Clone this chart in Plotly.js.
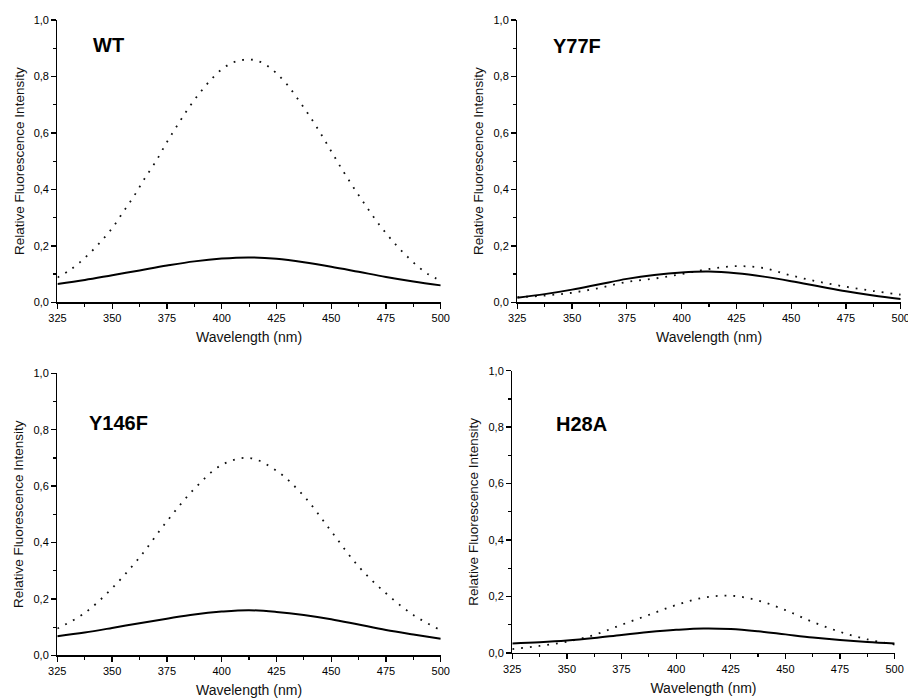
<!DOCTYPE html>
<html>
<head>
<meta charset="utf-8">
<script src="https://cdn.plot.ly/plotly-3.0.1.min.js"></script>
<style>html,body{margin:0;padding:0;background:#fff;}#chart{width:908px;height:699px;}</style>
</head>
<body>
<div id="chart"></div>
<script>
// Wavelength grids (nm)
const wl5 = [325,330,335,340,345,350,355,360,365,370,375,380,385,390,395,400,405,410,415,420,425,430,435,440,445,450,455,460,465,470,475,480,485,490,495,500];
const wl12 = [325,337.5,350,362.5,375,387.5,400,412.5,425,437.5,450,462.5,475,487.5,500];

// Panel labels
const panelNames = ["WT", "Y77F", "Y146F", "H28A"];

// WT
const wtDotted = [0.088,0.111,0.140,0.176,0.217,0.263,0.320,0.377,0.441,0.500,0.568,0.630,0.690,0.742,0.788,0.825,0.849,0.859,0.858,0.842,0.811,0.770,0.717,0.661,0.600,0.535,0.470,0.409,0.351,0.295,0.245,0.200,0.160,0.124,0.096,0.077];
const wtSolid = [0.065,0.079,0.096,0.113,0.130,0.145,0.155,0.159,0.154,0.142,0.126,0.108,0.090,0.074,0.060];

// Y77F
const y77fDotted = [0.018,0.024,0.034,0.051,0.072,0.084,0.100,0.118,0.128,0.121,0.095,0.073,0.055,0.040,0.027];
const y77fSolid = [0.016,0.029,0.045,0.064,0.083,0.097,0.106,0.109,0.103,0.091,0.075,0.057,0.039,0.024,0.012];

// Y146F
const y146fDotted = [0.095,0.150,0.238,0.347,0.475,0.590,0.675,0.700,0.655,0.565,0.440,0.315,0.220,0.143,0.089];
const y146fSolid = [0.068,0.081,0.097,0.114,0.130,0.145,0.155,0.160,0.154,0.143,0.128,0.109,0.090,0.074,0.059];

// H28A
const h28aDotted = [0.014,0.025,0.040,0.064,0.100,0.135,0.170,0.196,0.203,0.186,0.152,0.110,0.075,0.048,0.030];
const h28aSolid = [0.034,0.038,0.044,0.053,0.064,0.074,0.082,0.087,0.085,0.077,0.066,0.055,0.046,0.039,0.034];

const xTicks = [325,350,375,400,425,450,475,500];
const xMinor = [337.5,362.5,387.5,412.5,437.5,462.5,487.5];

const dotLine = {color:'#111', width:1.8, dash:'1.8px,7px', shape:'spline', smoothing:1};
const solidLine = {color:'#000', width:2, shape:'spline', smoothing:1};

function tr(x, y, line, ax) {
  return {x:x, y:y, type:'scatter', mode:'lines', line:line, xaxis:'x'+ax, yaxis:'y'+ax, showlegend:false, hoverinfo:'skip'};
}

const data = [
  tr(wl5, wtDotted, dotLine, ''), tr(wl12, wtSolid, solidLine, ''),
  tr(wl12, y77fDotted, dotLine, '2'), tr(wl12, y77fSolid, solidLine, '2'),
  tr(wl12, y146fDotted, dotLine, '3'), tr(wl12, y146fSolid, solidLine, '3'),
  tr(wl12, h28aDotted, dotLine, '4'), tr(wl12, h28aSolid, solidLine, '4')
];

const fontFam = 'Liberation Sans, Arial, sans-serif';
function xax(dom, anchor) {
  return {domain:dom, anchor:anchor, range:[325,500], tickvals:xTicks, ticktext:xTicks.map(String),
    ticklabeloverflow:'allow',
    showline:true, linecolor:'#000', linewidth:1.3, ticks:'outside', ticklen:5, tickwidth:1.3, tickcolor:'#000',
    minor:{tickvals:xMinor, ticks:'outside', ticklen:3, tickwidth:1.2, tickcolor:'#000', showgrid:false},
    showgrid:false, zeroline:false, tickfont:{size:11, color:'#000', family:fontFam},
    title:{text:'Wavelength (nm)', font:{size:14, color:'#111', family:fontFam}, standoff:9}, fixedrange:true};
}
function yax(dom, anchor) {
  return {domain:dom, anchor:anchor, range:[0,1], tick0:0, dtick:0.2, tickformat:'.1f',
    ticklabeloverflow:'allow',
    showline:true, linecolor:'#000', linewidth:1.3, ticks:'outside', ticklen:5, tickwidth:1.3, tickcolor:'#000',
    minor:{dtick:0.1, tick0:0, ticks:'outside', ticklen:3, tickwidth:1.2, tickcolor:'#000', showgrid:false},
    showgrid:false, zeroline:false, tickfont:{size:11, color:'#000', family:fontFam},
    title:{text:'Relative Fluorescence Intensity', font:{size:13.5, color:'#111', family:fontFam}, standoff:6}, fixedrange:true};
}

const d1x=[0.0633,0.4854], d1y=[0.5675,0.9714];
const d2x=[0.5697,0.9920], d2y=[0.5675,0.9714];
const d3x=[0.0631,0.4854], d3y=[0.0625,0.4659];
const d4x=[0.5642,0.9853], d4y=[0.0658,0.4697];

const labelPos = [[0.1002,0.9363],[0.6068,0.9346],[0.0958,0.3948],[0.6101,0.3934]];

const layout = {
  width:908, height:699, margin:{l:0,r:0,t:0,b:0}, paper_bgcolor:'#fff', plot_bgcolor:'#fff',
  separators:', ', font:{family:fontFam, color:'#111'},
  xaxis:xax(d1x,'y'), yaxis:yax(d1y,'x'),
  xaxis2:xax(d2x,'y2'), yaxis2:yax(d2y,'x2'),
  xaxis3:xax(d3x,'y3'), yaxis3:yax(d3y,'x3'),
  xaxis4:xax(d4x,'y4'), yaxis4:yax(d4y,'x4'),
  annotations: panelNames.map((n,i)=>({text:'<b>'+n+'</b>', xref:'paper', yref:'paper', x:labelPos[i][0], y:labelPos[i][1],
    xanchor:'left', yanchor:'middle', showarrow:false, font:{size:20, color:'#000', family:fontFam}})),
  showlegend:false
};

Plotly.newPlot('chart', data, layout, {staticPlot:true, displayModeBar:false});
</script>
</body>
</html>
